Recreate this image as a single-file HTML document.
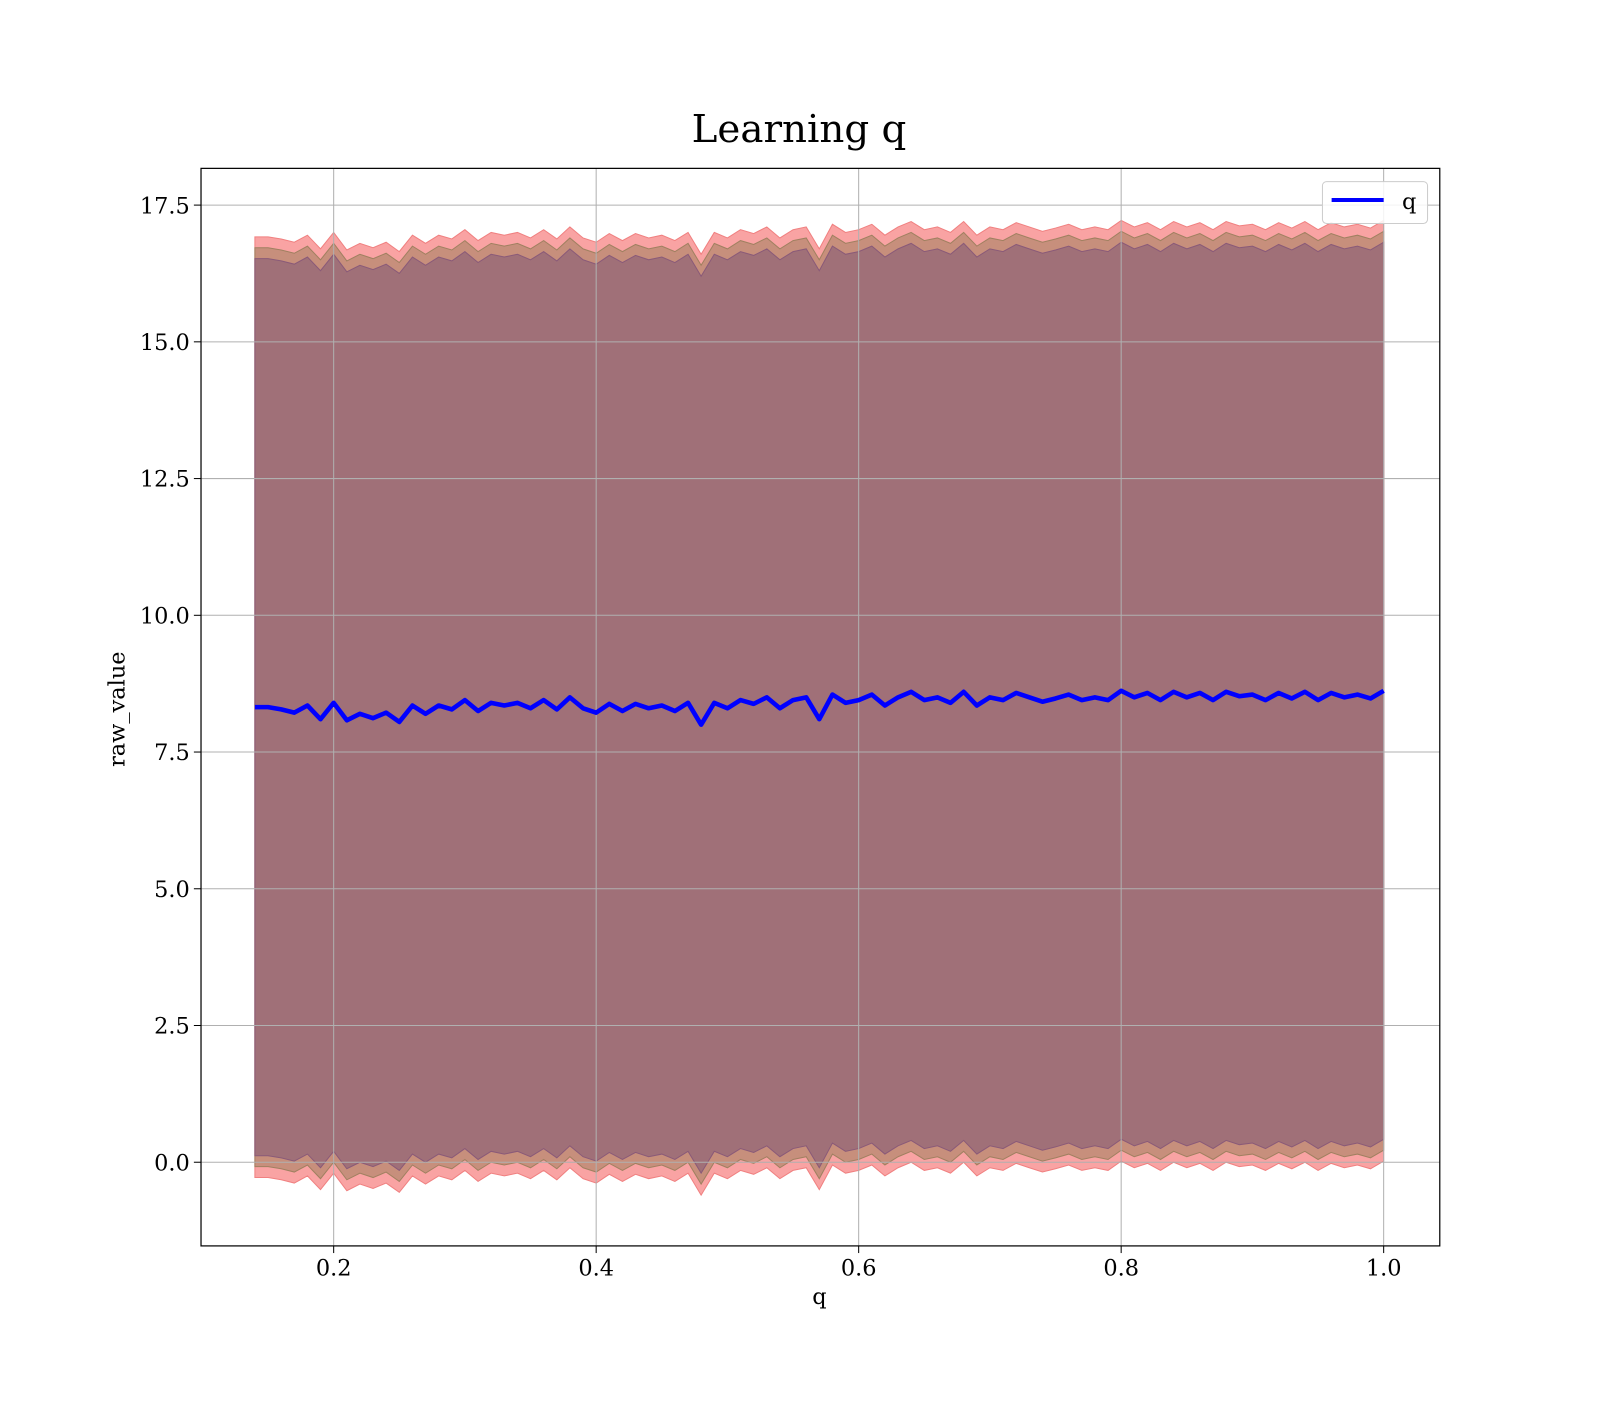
<!DOCTYPE html>
<html><head><meta charset="utf-8"><style>
body{margin:0;background:#fff}
svg text{font-family:"DejaVu Serif","Liberation Serif",serif;fill:#000}
</style></head><body>
<svg width="1600" height="1400" xmlns="http://www.w3.org/2000/svg">
<g transform="scale(1.0204)">
<text x="783" y="139" font-size="38" text-anchor="middle">Learning q</text>
<g id="bands"></g>
<g id="grid"></g>
<path id="meanline" fill="none" stroke="#0000ff" stroke-width="4.5" stroke-linejoin="round"/>
<rect x="197" y="165" width="1214" height="1056" fill="none" stroke="#000" stroke-width="1.2"/>
<g id="ticks"></g>
<text x="803" y="1278" font-size="22" text-anchor="middle">q</text>
<text transform="translate(122,695) rotate(-90)" font-size="22" text-anchor="middle">raw_value</text>
<g>
<rect x="1296" y="178" width="103" height="41" rx="4" fill="#fff" fill-opacity="0.85" stroke="#ccc"/>
<line x1="1305" y1="196" x2="1356" y2="196" stroke="#0000ff" stroke-width="4"/>
<text x="1374" y="205" font-size="22">q</text>
</g>
</g>
</svg>
<script>
const xStart = 0.14;
const xStep = 0.01;
const meanValues = [8.32,8.32,8.28,8.22,8.35,8.10,8.40,8.08,8.20,8.12,8.22,8.05,8.35,8.20,8.35,8.28,8.45,8.25,8.40,8.35,8.40,8.30,8.45,8.28,8.50,8.30,8.22,8.38,8.25,8.38,8.30,8.35,8.25,8.40,8.00,8.40,8.30,8.45,8.38,8.50,8.30,8.45,8.50,8.10,8.55,8.40,8.45,8.55,8.35,8.50,8.60,8.45,8.50,8.40,8.60,8.35,8.50,8.45,8.58,8.50,8.42,8.48,8.55,8.45,8.50,8.45,8.62,8.50,8.58,8.45,8.60,8.50,8.58,8.45,8.60,8.52,8.55,8.45,8.58,8.48,8.60,8.45,8.58,8.50,8.55,8.48,8.62];
const bandOffsets = [8.6, 8.4, 8.2];
const xTicks = [0.2,0.4,0.6,0.8,1.0];
const xTickLabels = ["0.2","0.4","0.6","0.8","1.0"];
const yTicks = [0,2.5,5,7.5,10,12.5,15,17.5];
const yTickLabels = ["0.0","2.5","5.0","7.5","10.0","12.5","15.0","17.5"];

const NS="http://www.w3.org/2000/svg";
const X=v=>327+(v-0.2)*(1356-327)/0.8;
const Y=v=>1139-v*(1139-201)/17.5;
const xs=meanValues.map((_,i)=>xStart+i*xStep);
const bandFill=["#f9a3a3","#c78f7c","#a07078"];
const bandStroke=["#f08080","#a08060","#8a5a78"];
const bands=document.getElementById('bands');
bandOffsets.forEach((off,k)=>{
  let top=xs.map((x,i)=>X(x).toFixed(1)+','+Y(meanValues[i]+off).toFixed(1));
  let bot=xs.map((x,i)=>X(x).toFixed(1)+','+Y(meanValues[i]-off).toFixed(1)).reverse();
  const p=document.createElementNS(NS,'polygon');
  p.setAttribute('points',top.concat(bot).join(' '));
  p.setAttribute('fill',bandFill[k]);
  p.setAttribute('stroke',bandStroke[k]);
  p.setAttribute('stroke-width','1');
  
  
  bands.appendChild(p);
});
const grid=document.getElementById('grid'), ticks=document.getElementById('ticks');
function mk(tag,attrs,parent){const e=document.createElementNS(NS,tag);for(const k in attrs)e.setAttribute(k,attrs[k]);parent.appendChild(e);return e;}
xTicks.forEach((v,i)=>{
  const g=mk('line',{x1:X(v),x2:X(v),y1:165,y2:1221,stroke:'#b0b0b0','stroke-width':1},grid);
  
  
  mk('line',{x1:X(v),x2:X(v),y1:1221,y2:1228,stroke:'#000'},ticks);
  const t=mk('text',{x:X(v),y:1250,'font-size':22,'text-anchor':'middle'},ticks);
  t.textContent=xTickLabels[i];
  
  
});
yTicks.forEach((v,i)=>{
  const g=mk('line',{x1:197,x2:1411,y1:Y(v),y2:Y(v),stroke:'#b0b0b0','stroke-width':1},grid);
  
  
  mk('line',{x1:190,x2:197,y1:Y(v),y2:Y(v),stroke:'#000'},ticks);
  const t=mk('text',{x:186,y:Y(v)+8,'font-size':22,'text-anchor':'end'},ticks);
  t.textContent=yTickLabels[i];
  
  
});
document.getElementById('meanline').setAttribute('d',xs.map((x,i)=>(i?'L':'M')+X(x).toFixed(1)+','+Y(meanValues[i]).toFixed(1)).join(''));
</script>
</body></html>
